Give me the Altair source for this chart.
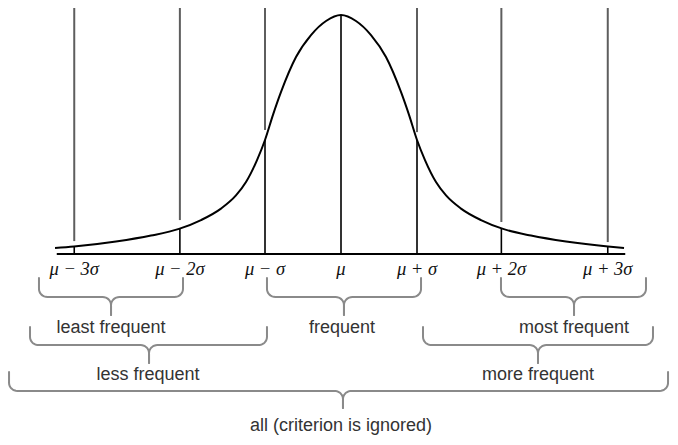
import altair as alt
import pandas as pd
import numpy as np

# ---------------- data (x in sigma units, y in relative height of the peak) ----------------
tick_labels = ["μ − 3σ", "μ − 2σ", "μ − σ", "μ", "μ + σ", "μ + 2σ", "μ + 3σ"]
tick_x = [-3.51, -2.12, -1.0, 0.0, 1.0, 2.11, 3.51]
curve_at_tick = [0.031, 0.106, 0.477, 1.0, 0.477, 0.107, 0.031]
guide_bottom = [0.054, 0.142, 0.519, None, 0.510, 0.134, 0.050]
guide_top = 1.06
tick_label_y = -0.088

curve_x = [-3.763, -3.513, -2.961, -2.5, -2.132, -1.842, -1.579, -1.382, -1.25, -1.105, -1.0,
           -0.895, -0.789, -0.592, -0.395, -0.197, 0.0,
           0.197, 0.395, 0.592, 0.789, 0.895, 1.0, 1.105, 1.25, 1.382, 1.579, 1.842, 2.132,
           2.5, 2.961, 3.513, 3.724]
curve_y = [0.025, 0.031, 0.052, 0.077, 0.105, 0.142, 0.190, 0.245, 0.301, 0.393, 0.477,
           0.582, 0.678, 0.824, 0.916, 0.975, 1.0,
           0.975, 0.916, 0.824, 0.678, 0.582, 0.477, 0.393, 0.301, 0.245, 0.190, 0.142, 0.105,
           0.077, 0.052, 0.031, 0.025]

baseline_x = [-3.74, 3.74]

brace_labels = ["least frequent", "frequent", "most frequent",
                "less frequent", "more frequent", "all (criterion is ignored)"]
brace_left = [-3.974, -0.974, 2.105, -4.092, 1.079, -4.368]
brace_mid = [-3.026, 0.039, 3.066, -2.526, 2.592, 0.026]
brace_right = [-2.079, 1.053, 4.013, -0.974, 4.105, 4.303]
brace_top = [-0.100, -0.100, -0.100, -0.305, -0.305, -0.494]
brace_bar = [-0.180, -0.180, -0.180, -0.381, -0.381, -0.573]
brace_tip = [-0.255, -0.255, -0.255, -0.456, -0.456, -0.644]
label_x = [-3.026, 0.013, 3.066, -2.539, 2.592, 0.0]
label_y = [-0.331, -0.331, -0.331, -0.527, -0.527, -0.740]

# ---------------- tables ----------------
curve_df = pd.DataFrame({"x": curve_x, "y": curve_y, "i": range(len(curve_x))})

ticks_df = pd.DataFrame({"x": tick_x, "label": tick_labels, "y": curve_at_tick,
                         "y0": [0.0] * len(tick_x), "ly": [tick_label_y] * len(tick_x)})

guides_df = pd.DataFrame({"x": [tx for tx, b in zip(tick_x, guide_bottom) if b is not None],
                          "y": [b for b in guide_bottom if b is not None]})
guides_df["y2"] = guide_top

base_df = pd.DataFrame({"x": [baseline_x[0]], "x2": [baseline_x[1]], "y": [0.0]})


def brace_path(k, L, M, R, T, H, B, rx=0.11, ry=0.034):
    pts = []
    th = np.linspace(np.pi, 1.5 * np.pi, 9)
    left = [(L, T)]
    left += [(L + rx + rx * np.cos(t), H + ry + ry * np.sin(t)) for t in th]
    th2 = np.linspace(0.5 * np.pi, 0.0, 9)
    left += [(M - rx + rx * np.cos(t), H - ry + ry * np.sin(t)) for t in th2]
    left += [(M, B)]
    th3 = np.linspace(np.pi, 0.5 * np.pi, 9)
    right = [(M, B)]
    right += [(M + rx + rx * np.cos(t), H - ry + ry * np.sin(t)) for t in th3]
    th4 = np.linspace(1.5 * np.pi, 2.0 * np.pi, 9)
    right += [(R - rx + rx * np.cos(t), H + ry + ry * np.sin(t)) for t in th4]
    right += [(R, T)]
    for j, (x, y) in enumerate(left):
        pts.append({"seg": f"{k}a", "i": j, "x": x, "y": y})
    for j, (x, y) in enumerate(right):
        pts.append({"seg": f"{k}b", "i": j, "x": x, "y": y})
    return pts


rows = []
for k in range(len(brace_labels)):
    rows += brace_path(k, brace_left[k], brace_mid[k], brace_right[k],
                       brace_top[k], brace_bar[k], brace_tip[k])
brace_df = pd.DataFrame(rows)
label_df = pd.DataFrame({"x": label_x, "y": label_y, "label": brace_labels})

# ---------------- scales ----------------
xs = alt.Scale(domain=[-4.3816, 4.3289], nice=False, zero=False)
ys = alt.Scale(domain=[-0.7657, 1.0293], nice=False, zero=False)
X = alt.X("x:Q", scale=xs, axis=None)
Y = alt.Y("y:Q", scale=ys, axis=None)

curve = alt.Chart(curve_df).mark_line(color="black", strokeWidth=2, interpolate="monotone").encode(
    x=X, y=Y, order="i:Q")

guides = alt.Chart(guides_df).mark_rule(color="#5e5e5e", strokeWidth=2).encode(
    x=X, y=Y, y2="y2:Q")

drops = alt.Chart(ticks_df).mark_rule(color="black", strokeWidth=1.6).encode(
    x=X, y=Y, y2="y0:Q")

baseline = alt.Chart(base_df).mark_rule(color="black", strokeWidth=2).encode(
    x=X, x2="x2:Q", y=Y)

tick_text = alt.Chart(ticks_df).mark_text(font="Liberation Serif", fontStyle="italic", fontSize=18.5,
                                          color="#111", baseline="alphabetic", align="center").encode(
    x=X, y=alt.Y("ly:Q", scale=ys, axis=None), text="label:N")

braces = alt.Chart(brace_df).mark_line(color="#8a8a8a", strokeWidth=2, strokeCap="round",
                                       strokeJoin="round").encode(
    x=X, y=Y, detail="seg:N", order="i:Q")

labels = alt.Chart(label_df).mark_text(font="Liberation Sans", fontSize=18, color="#333",
                                       baseline="alphabetic", align="center").encode(
    x=X, y=Y, text="label:N")

chart = alt.layer(guides, drops, curve, baseline, tick_text, braces, labels).properties(
    width=662, height=429, padding=0, autosize=alt.AutoSizeParams(type="none")
).configure_view(stroke=None)

chart.save("out.html", embed_options={"renderer": "svg", "actions": False})
